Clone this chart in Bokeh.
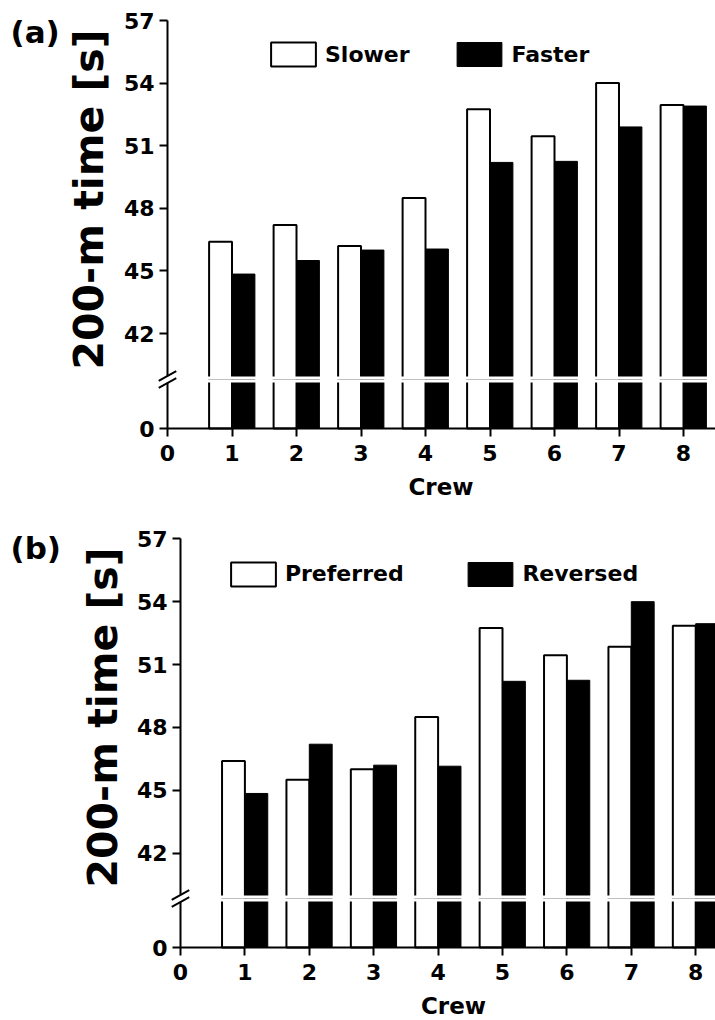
import math
from bokeh.plotting import figure
from bokeh.models import (Range1d, FixedTicker, Legend, LegendItem, Label, ColumnDataSource,
                          BoxAnnotation)
from bokeh.transform import dodge
from bokeh.layouts import column
from bokeh.embed import file_html
from bokeh.resources import INLINE

# ---------------- data ----------------
crews = [1, 2, 3, 4, 5, 6, 7, 8]
slower = [46.4, 47.2, 46.2, 48.5, 52.75, 51.45, 54.0, 52.95]
faster = [44.85, 45.5, 46.0, 46.05, 50.2, 50.25, 51.9, 52.9]
preferred = [46.4, 45.5, 46.0, 48.5, 52.75, 51.45, 51.85, 52.85]
reversed_ = [44.85, 47.2, 46.2, 46.15, 50.2, 50.25, 54.0, 52.95]
upper_ticks = [42, 45, 48, 51, 54, 57]
lower_ticks = [0]
x_ticks = [0, 1, 2, 3, 4, 5, 6, 7, 8]
y_title = "200-m time [s]"
x_title = "Crew"

# ---------------- layout constants (pixels) ----------------
FONT = "DejaVu Sans"
W = 715
BW = 0.355          # bar width (crew units)
BRK_HALF = 10.0     # half length of a break stroke (px)
BRK_ANG = 0.5       # slope of the break strokes (rad)
BRK_SEP = 7.0       # vertical distance between the two strokes (px)


def style_axis(ax, size="22px", standoff=5):
    ax.axis_line_width = 2
    ax.axis_line_color = "black"
    ax.major_tick_line_width = 2
    ax.major_tick_line_color = "black"
    ax.major_tick_out = 8
    ax.major_tick_in = 0
    ax.minor_tick_line_color = None
    ax.major_label_text_font = FONT
    ax.major_label_text_font_style = "bold"
    ax.major_label_text_font_size = size
    ax.major_label_text_color = "black"
    ax.major_label_standoff = standoff


def base_fig(height, xr, yr, xaxis):
    p = figure(width=W, height=height, x_range=xr, y_range=yr,
               output_backend="svg", toolbar_location=None,
               x_axis_location=("below" if xaxis else None),
               min_border_left=0, min_border_right=0,
               min_border_top=0, min_border_bottom=0)
    p.outline_line_color = None
    p.xgrid.visible = False
    p.ygrid.visible = False
    p.background_fill_color = "white"
    p.border_fill_color = "white"
    return p


def bars(p, src):
    r1 = p.vbar(x=dodge("crew", -BW / 2, range=p.x_range), width=BW, bottom=0, top="s1",
                source=src, fill_color="white", line_color="black", line_width=2)
    r2 = p.vbar(x=dodge("crew", BW / 2, range=p.x_range), width=BW, bottom=0, top="s2",
                source=src, fill_color="black", line_color="black", line_width=1)
    return r1, r2


def text_label(x, y, text, size, angle=0.0, style="bold", align="center", baseline="middle"):
    return Label(x=x, y=y, x_units="screen", y_units="screen", text=text, angle=angle,
                 text_font=FONT, text_font_style=style, text_font_size=size,
                 text_align=align, text_baseline=baseline, text_color="black", level="overlay")


def break_mark(p, yc, pxx, pxy):
    """Two short slanted strokes across the y axis at data height yc."""
    dx = BRK_HALF * math.cos(BRK_ANG) / pxx
    dy = BRK_HALF * math.sin(BRK_ANG) / pxy
    offs = [-BRK_SEP / 2 / pxy, BRK_SEP / 2 / pxy]
    p.segment(x0=[-dx, -dx], y0=[yc + o - dy for o in offs],
              x1=[dx, dx], y1=[yc + o + dy for o in offs],
              line_color="black", line_width=2, level="overlay")


def panel(tag, names, s1, s2, g):
    """g: pixel geometry of one panel (page coordinates)."""
    src = ColumnDataSource(dict(crew=crews, s1=s1, s2=s2))
    pxx, pxy = g["pxx"], g["pxy"]
    x0 = g["x0"]
    xmax = (W - x0) / pxx
    xr = Range1d(-x0 / pxx, xmax)
    start, seam, end = g["start"], g["seam"], g["end"]
    y57, zero, gap0, gap1 = g["y57"], g["zero"], g["gap0"], g["gap1"]
    top_h, bot_h = seam - start, end - seam
    brk = (gap0 + gap1) / 2

    # ----- upper segment -----
    ylo = 57 - (seam - y57) / pxy
    pt = base_fig(top_h, xr, Range1d(ylo, 57 + (y57 - start) / pxy), False)
    r1, r2 = bars(pt, src)
    ya = pt.yaxis[0]
    ya.fixed_location = 0
    ya.bounds = (57 - (gap0 - y57) / pxy, 57)
    ya.ticker = FixedTicker(ticks=upper_ticks)
    style_axis(ya)
    pt.add_layout(BoxAnnotation(bottom=ylo - 1, top=57 - (gap0 - y57) / pxy, fill_color="white",
                                fill_alpha=1, line_color=None, level="annotation"))
    break_mark(pt, 57 - (brk - y57) / pxy, pxx, pxy)
    pt.add_layout(text_label(g["ylab_x"], seam - g["ylab_y"], y_title, "41px", angle=math.pi / 2))
    for lx, (nm, rr) in zip(g["leg_x"], [(names[0], r1), (names[1], r2)]):
        leg = Legend(items=[LegendItem(label=nm, renderers=[rr])],
                     location=(lx, seam - g["leg_top"] - 30), orientation="horizontal",
                     glyph_width=56, glyph_height=30, label_height=24, label_standoff=4,
                     padding=0, margin=0, border_line_color=None, background_fill_alpha=0,
                     label_text_font=FONT, label_text_font_style="bold",
                     label_text_font_size="22px", label_text_color="black")
        pt.add_layout(leg)
    pt.add_layout(text_label(10, seam - g["tag_top"], tag, "31px", align="left", baseline="top"))

    # ----- lower segment -----
    pb = base_fig(bot_h, xr, Range1d(-(end - zero) / pxy, (zero - seam) / pxy), True)
    bars(pb, src)
    yb = pb.yaxis[0]
    yb.fixed_location = 0
    yb.bounds = (0, (zero - gap1) / pxy)
    yb.ticker = FixedTicker(ticks=lower_ticks)
    style_axis(yb)
    xb = pb.xaxis[0]
    xb.fixed_location = 0
    xb.bounds = (0, xmax)
    xb.ticker = FixedTicker(ticks=x_ticks)
    style_axis(xb, standoff=8)
    pb.add_layout(BoxAnnotation(bottom=(zero - gap1) / pxy, top=(zero - seam) / pxy + 1,
                                fill_color="white", fill_alpha=1, line_color=None,
                                level="annotation"))
    break_mark(pb, (zero - brk) / pxy, pxx, pxy)
    pb.add_layout(text_label(g["crew_x"], end - g["crew_y"], x_title, "23px"))
    return pt, pb


GA = dict(start=0, seam=379, end=510, y57=20, zero=428, gap0=376, gap1=382,
          pxy=20.87, pxx=64.5, x0=167, ylab_x=88.5, ylab_y=199,
          leg_x=[265, 451.4], leg_top=39.3, tag_top=13, crew_x=440.5, crew_y=486)
GB = dict(start=510, seam=898, end=1020, y57=538.3, zero=947, gap0=895, gap1=901,
          pxy=20.96, pxx=64.4, x0=180, ylab_x=102.5, ylab_y=717,
          leg_x=[224.9, 462.4], leg_top=558.7, tag_top=529, crew_x=453, crew_y=1005)

a_top, a_bot = panel("(a)", ["Slower", "Faster"], slower, faster, GA)
b_top, b_bot = panel("(b)", ["Preferred", "Reversed"], preferred, reversed_, GB)

layout = column(a_top, a_bot, b_top, b_bot, spacing=0)
open("out.html", "w").write(file_html(layout, INLINE))
